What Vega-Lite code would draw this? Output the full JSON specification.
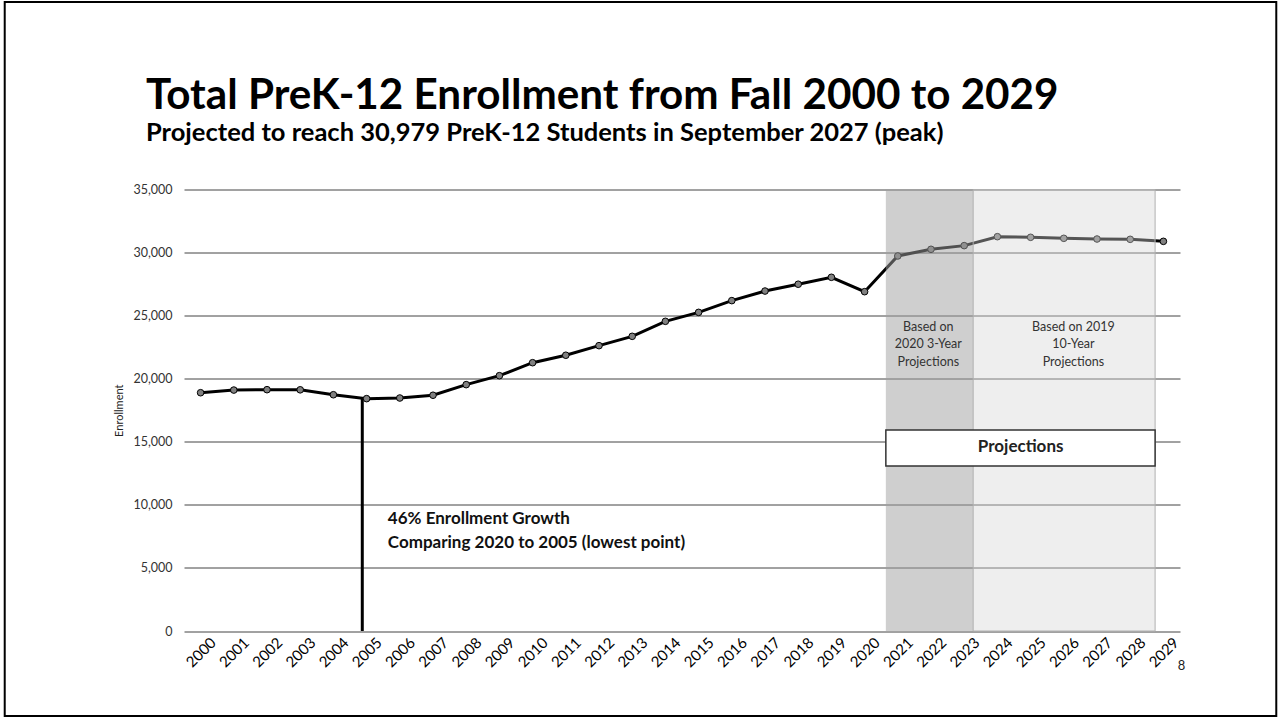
{
  "$schema": "https://vega.github.io/schema/vega-lite/v6.json",
  "width": 996,
  "height": 441.5,
  "autosize": {"type": "none"},
  "padding": {"left": 184, "top": 189.5, "right": 101, "bottom": 88},
  "background": "white",
  "config": {
    "view": {"stroke": null},
    "font": "Lato",
    "axisX": {
      "labelAngle": -45,
      "labelAlign": "center",
      "labelBaseline": "middle",
      "labelPadding": 21,
      "labelFontSize": 15,
      "labelColor": "#000000",
      "labelFont": "Lato",
      "labelOverlap": false,
      "labelBound": false,
      "labelFlush": false,
      "grid": false, "domain": false, "ticks": false,
      "tickCount": 30,
      "format": "d",
      "titleFont": "Lato",
      "titleFontSize": 13,
      "titleFontWeight": "normal",
      "titleColor": "#222222",
      "titleX": 997,
      "titleY": 28,
      "titleAlign": "center"
    },
    "axisY": {
      "grid": true, "gridColor": "#444444", "gridWidth": 1,
      "domain": false, "ticks": false,
      "labelPadding": 12,
      "labelFontSize": 12.5,
      "labelColor": "#333333",
      "labelFont": "Lato",
      "titleFont": "Lato",
      "titleFontSize": 11,
      "titleFontWeight": "normal",
      "titleColor": "#222222",
      "titlePadding": 8
    }
  },
  "title": {
    "text": "Total PreK-12 Enrollment from Fall 2000 to 2029",
    "subtitle": "Projected to reach 30,979 PreK-12 Students in September 2027 (peak)",
    "anchor": "start",
    "frame": "group",
    "dx": -38,
    "offset": -146,
    "font": "Lato",
    "fontSize": 42.2,
    "fontWeight": "bold",
    "color": "black",
    "subtitleFont": "Lato",
    "subtitleFontSize": 25.5,
    "subtitleFontWeight": "bold",
    "subtitleColor": "black",
    "subtitlePadding": 2
  },
  "data": {
    "values": [
      {"year": 2000, "enrollment": 18890},
      {"year": 2001, "enrollment": 19100},
      {"year": 2002, "enrollment": 19130},
      {"year": 2003, "enrollment": 19120},
      {"year": 2004, "enrollment": 18730},
      {"year": 2005, "enrollment": 18420},
      {"year": 2006, "enrollment": 18470},
      {"year": 2007, "enrollment": 18690},
      {"year": 2008, "enrollment": 19530},
      {"year": 2009, "enrollment": 20240},
      {"year": 2010, "enrollment": 21270},
      {"year": 2011, "enrollment": 21860},
      {"year": 2012, "enrollment": 22620},
      {"year": 2013, "enrollment": 23360},
      {"year": 2014, "enrollment": 24550},
      {"year": 2015, "enrollment": 25260},
      {"year": 2016, "enrollment": 26190},
      {"year": 2017, "enrollment": 26950},
      {"year": 2018, "enrollment": 27490},
      {"year": 2019, "enrollment": 28040},
      {"year": 2020, "enrollment": 26900},
      {"year": 2021, "enrollment": 29730},
      {"year": 2022, "enrollment": 30260},
      {"year": 2023, "enrollment": 30550},
      {"year": 2024, "enrollment": 31260},
      {"year": 2025, "enrollment": 31210},
      {"year": 2026, "enrollment": 31130},
      {"year": 2027, "enrollment": 31075},
      {"year": 2028, "enrollment": 31050},
      {"year": 2029, "enrollment": 30890}
    ]
  },
  "layer": [
    {
      "mark": {"type": "line", "color": "black", "strokeWidth": 3},
      "encoding": {
        "x": {
          "field": "year", "type": "quantitative",
          "scale": {"domain": [1999.5, 2029.5], "nice": false, "zero": false},
          "axis": {
            "title": "8",
            "values": [2000,2001,2002,2003,2004,2005,2006,2007,2008,2009,2010,2011,2012,2013,2014,2015,2016,2017,2018,2019,2020,2021,2022,2023,2024,2025,2026,2027,2028,2029],
            "format": "d",
            "labelOverlap": false
          }
        },
        "y": {
          "field": "enrollment", "type": "quantitative",
          "scale": {"domain": [0, 35000], "nice": false},
          "axis": {"title": "Enrollment", "values": [0,5000,10000,15000,20000,25000,30000,35000], "labelExpr": "format(datum.value, ',')", "labelOverlap": false}
        }
      }
    },
    {
      "data": {"values": [{}]},
      "mark": {"type": "rule", "color": "black", "strokeWidth": 3},
      "encoding": {
        "x": {"datum": 2004.87, "type": "quantitative"},
        "y": {"datum": 0, "type": "quantitative", "axis": {"title": "Enrollment", "values": [0,5000,10000,15000,20000,25000,30000,35000], "labelExpr": "format(datum.value, ',')", "labelOverlap": false}},
        "y2": {"datum": 18420}
      }
    },
    {
      "mark": {"type": "point", "shape": "circle", "filled": true, "fill": "#808080", "stroke": "black", "strokeWidth": 1, "size": 44, "opacity": 1},
      "encoding": {
        "x": {"field": "year", "type": "quantitative"},
        "y": {"field": "enrollment", "type": "quantitative", "axis": {"title": "Enrollment", "values": [0,5000,10000,15000,20000,25000,30000,35000], "labelExpr": "format(datum.value, ',')", "labelOverlap": false}}
      }
    },
    {
      "data": {"values": [{}]},
      "mark": {"type": "rect", "fill": "#9f9f9f", "fillOpacity": 0.5, "strokeWidth": 0},
      "encoding": {
        "x": {"datum": 2020.64, "type": "quantitative"},
        "x2": {"datum": 2023.27},
        "y": {"datum": 0, "type": "quantitative", "axis": {"title": "Enrollment", "values": [0,5000,10000,15000,20000,25000,30000,35000], "labelExpr": "format(datum.value, ',')", "labelOverlap": false}},
        "y2": {"datum": 35000}
      }
    },
    {
      "data": {"values": [{}]},
      "mark": {"type": "rect", "fill": "#d4d4d4", "fillOpacity": 0.4, "stroke": "#b0b0b0", "strokeWidth": 1},
      "encoding": {
        "x": {"datum": 2023.27, "type": "quantitative"},
        "x2": {"datum": 2028.75},
        "y": {"datum": 0, "type": "quantitative", "axis": {"title": "Enrollment", "values": [0,5000,10000,15000,20000,25000,30000,35000], "labelExpr": "format(datum.value, ',')", "labelOverlap": false}},
        "y2": {"datum": 35000}
      }
    },
    {
      "data": {"values": [{}]},
      "mark": {"type": "rect", "fill": "white", "stroke": "#333333", "strokeWidth": 1.5},
      "encoding": {
        "x": {"datum": 2020.64, "type": "quantitative"},
        "x2": {"datum": 2028.75},
        "y": {"datum": 13080, "type": "quantitative", "axis": {"title": "Enrollment", "values": [0,5000,10000,15000,20000,25000,30000,35000], "labelExpr": "format(datum.value, ',')", "labelOverlap": false}},
        "y2": {"datum": 15935}
      }
    },
    {
      "data": {"values": [{}]},
      "mark": {"type": "text", "text": "Projections", "font": "Lato", "fontSize": 17, "fontWeight": "bold", "color": "#222222", "align": "center", "baseline": "middle"},
      "encoding": {
        "x": {"datum": 2024.7, "type": "quantitative"},
        "y": {"datum": 14612, "type": "quantitative", "axis": {"title": "Enrollment", "values": [0,5000,10000,15000,20000,25000,30000,35000], "labelExpr": "format(datum.value, ',')", "labelOverlap": false}}
      }
    },
    {
      "data": {"values": [{}]},
      "mark": {"type": "text", "text": ["Based on", "2020 3-Year", "Projections"], "font": "Lato", "fontSize": 12.5, "lineHeight": 17.5, "color": "#333333", "align": "center", "baseline": "middle"},
      "encoding": {
        "x": {"datum": 2021.92, "type": "quantitative"},
        "y": {"datum": 24100, "type": "quantitative", "axis": {"title": "Enrollment", "values": [0,5000,10000,15000,20000,25000,30000,35000], "labelExpr": "format(datum.value, ',')", "labelOverlap": false}}
      }
    },
    {
      "data": {"values": [{}]},
      "mark": {"type": "text", "text": ["Based on 2019", "10-Year", "Projections"], "font": "Lato", "fontSize": 12.5, "lineHeight": 17.5, "color": "#333333", "align": "center", "baseline": "middle"},
      "encoding": {
        "x": {"datum": 2026.29, "type": "quantitative"},
        "y": {"datum": 24100, "type": "quantitative", "axis": {"title": "Enrollment", "values": [0,5000,10000,15000,20000,25000,30000,35000], "labelExpr": "format(datum.value, ',')", "labelOverlap": false}}
      }
    },
    {
      "data": {"values": [{}]},
      "mark": {"type": "text", "text": ["46% Enrollment Growth", "Comparing 2020 to 2005 (lowest point)"], "font": "Lato", "fontSize": 17, "fontWeight": "bold", "lineHeight": 24, "color": "#111111", "align": "left", "baseline": "middle"},
      "encoding": {
        "x": {"datum": 2005.64, "type": "quantitative"},
        "y": {"datum": 8879, "type": "quantitative", "axis": {"title": "Enrollment", "values": [0,5000,10000,15000,20000,25000,30000,35000], "labelExpr": "format(datum.value, ',')", "labelOverlap": false}}
      }
    },
    {
      "data": {"values": [{}]},
      "mark": {"type": "rect", "fill": null, "fillOpacity": 0, "stroke": "black", "strokeWidth": 2},
      "encoding": {
        "x": {"datum": 1994.1, "type": "quantitative"},
        "x2": {"datum": 2032.4},
        "y": {"datum": 49860, "type": "quantitative", "axis": {"title": "Enrollment", "values": [0,5000,10000,15000,20000,25000,30000,35000], "labelExpr": "format(datum.value, ',')", "labelOverlap": false}},
        "y2": {"datum": -6740}
      }
    }
  ]
}
